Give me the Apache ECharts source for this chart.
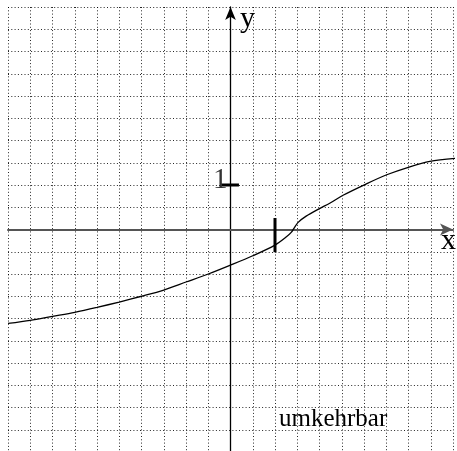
<!DOCTYPE html>
<html>
<head>
<meta charset="utf-8">
<script src="https://cdn.jsdelivr.net/npm/echarts@6/dist/echarts.min.js"></script>
<style>
  html, body { margin: 0; padding: 0; background: #fff; }
  #chart { width: 457px; height: 451px; }
</style>
</head>
<body>
<div id="chart"></div>
<script>
// Funktionsgraph "umkehrbar" — Koordinatengitter -5..5, Kästchen = 0.5

// Kurve
const curveX = [-5.0, -4.5, -4.0, -3.5, -3.0, -2.5, -2.0, -1.5, -1.0, -0.5, 0, 0.5, 1.0, 1.25, 1.37, 1.44, 1.52, 1.7, 2.0, 2.23, 2.53, 3.02, 3.51, 4.03, 4.48, 5.08];
const curveY = [-2.11, -2.04, -1.95, -1.86, -1.75, -1.63, -1.50, -1.36, -1.18, -1.00, -0.80, -0.59, -0.35, -0.17, -0.06, 0.05, 0.16, 0.30, 0.47, 0.59, 0.77, 1.01, 1.23, 1.41, 1.53, 1.60];

// Einheitsmarken
const xTickX = [1, 1];
const xTickY = [0.26, -0.51];
const yTickX = [-0.2, 0.19];
const yTickY = [1, 1];
const yUnitLabel = "1";

const AXIS_MIN = -5, AXIS_MAX = 5, STEP = 0.5;
const LABEL_TEXT = "umkehrbar";

const SERIF = "'Liberation Serif', 'DejaVu Serif', serif";
const zip = (xs, ys) => xs.map((x, i) => [x, ys[i]]);

const chart = echarts.init(document.getElementById("chart"), null, { renderer: "canvas" });

const dotted = { color: "#000", width: 1, type: [1, 2.3], opacity: 0.85 };

chart.setOption({
  backgroundColor: "#fff",
  animation: false,
  grid: { left: 8, top: 7, width: 445, height: 445, containLabel: false, outerBoundsMode: "none" },
  xAxis: {
    type: "value", min: AXIS_MIN, max: AXIS_MAX, interval: STEP,
    axisLine: { onZero: true, lineStyle: { color: "#555", width: 2 },
      symbol: ["none", "arrow"], symbolSize: [9, 13] },
    axisTick: { show: false },
    axisLabel: { show: false },
    splitLine: { show: true, lineStyle: dotted },
  },
  yAxis: {
    type: "value", min: AXIS_MIN, max: AXIS_MAX, interval: STEP,
    axisLine: { onZero: true, lineStyle: { color: "#000", width: 1.3 },
      symbol: ["none", "arrow"], symbolSize: [8, 13] },
    axisTick: { show: false },
    axisLabel: { show: false },
    splitLine: { show: true, lineStyle: dotted },
  },
  series: [
    { type: "line", data: zip(curveX, curveY), symbol: "none", smooth: 0.3,
      clip: false, lineStyle: { color: "#000", width: 1.3 } },
    { type: "line", data: zip(xTickX, xTickY), symbol: "none",
      lineStyle: { color: "#000", width: 3 } },
    { type: "line", data: zip(yTickX, yTickY), symbol: "none",
      lineStyle: { color: "#000", width: 3 } },
    { type: "scatter", data: [[yTickX[0], yTickY[0]]], symbolSize: 0, silent: true,
      label: { show: true, formatter: yUnitLabel, position: "left", distance: 0,
        offset: [6, -5], color: "#000", fontFamily: SERIF, fontSize: 29 } },
  ],
  graphic: [
    { type: "text", left: 240, top: 4,
      style: { text: "y", font: `30px ${SERIF}`, fill: "#000" } },
    { type: "text", left: 441, top: 226,
      style: { text: "x", font: `30px ${SERIF}`, fill: "#000" } },
    { type: "text", left: 279, top: 407,
      style: { text: LABEL_TEXT, font: `25px ${SERIF}`, fill: "#000" } },
  ],
});
</script>
</body>
</html>
